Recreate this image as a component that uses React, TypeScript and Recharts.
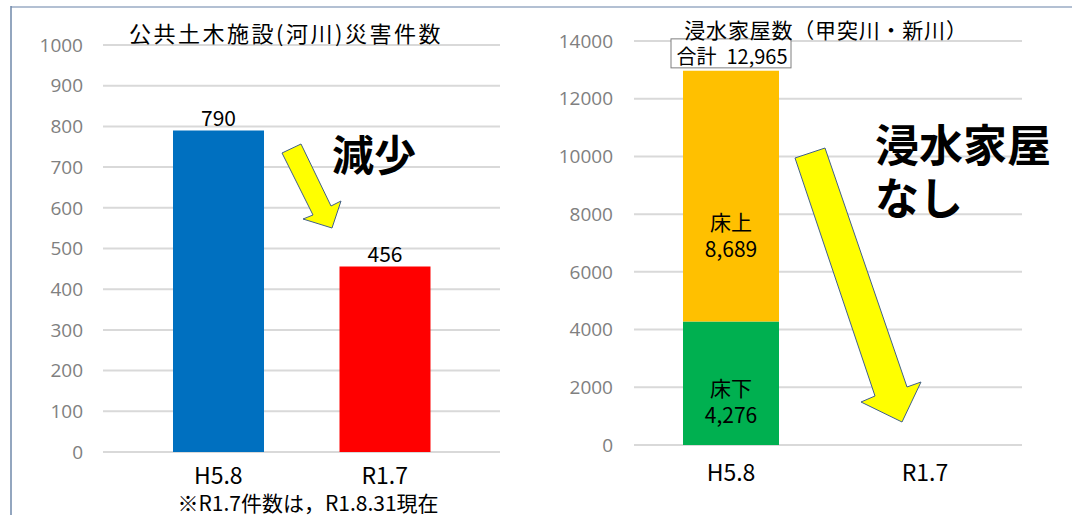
import { BarChart, Bar, XAxis, YAxis, CartesianGrid, Cell, LabelList } from 'recharts';

// categories and values
const categories = ['H5.8', 'R1.7'];
const disasterCounts = [790, 456];
const disasterColors = ['#0070C0', '#FF0000'];
const disasterTicks = [0, 100, 200, 300, 400, 500, 600, 700, 800, 900, 1000];

const floorBelow = [4276, 0]; // 床下
const floorAbove = [8689, 0]; // 床上
const floodTicks = [0, 2000, 4000, 6000, 8000, 10000, 12000, 14000];

const disasterData = categories.map((cat, i) => ({ cat, count: disasterCounts[i] }));
const floodData = categories.map((cat, i) => ({
    cat,
    below: floorBelow[i],
    above: floorAbove[i],
    total: floorBelow[i] + floorAbove[i],
}));

const JP = '"Noto Sans CJK JP", sans-serif';
const NUM = '"Open Sans", sans-serif';

const fmt = (v: number) => v.toLocaleString('en-US');

function segmentLabel(name: string, shift: number) {
    return (props: any) => {
        const vb = props.viewBox ?? props;
        const { x, y, width, height } = vb;
        const value = props.value;
        if (!value) return null;
        const cx = x + width / 2;
        const cy = y + height / 2 + shift;
        return (
            <text textAnchor="middle" dominantBaseline="central" fontFamily={JP} fontSize={21} fill="#000">
                <tspan x={cx} y={cy}>{name}</tspan>
                <tspan x={cx} y={cy + 27}>{fmt(value)}</tspan>
            </text>
        );
    };
}

function totalLabel(props: any) {
    const vb = props.viewBox ?? props;
    const { x, y, width } = vb;
    const value = props.value;
    if (!value) return null;
    const cx = x + width / 2;
    return (
        <g>
            <rect x={cx - 60} y={y - 32} width={120} height={29} fill="#fff" stroke="#7f7f7f" strokeWidth={1} />
            <text x={cx + 1} y={y - 15} textAnchor="middle" dominantBaseline="central" fontFamily={JP} fontSize={20} fill="#000">
                {'合計\u2002' + fmt(value)}
            </text>
        </g>
    );
}

function DisasterChart() {
    return (
        <BarChart width={540} height={515} data={disasterData} margin={{ top: 45, right: 40, bottom: 23, left: 0 }}>
            <CartesianGrid vertical={false} stroke="#d9d9d9" strokeWidth={2} />
            <XAxis
                dataKey="cat"
                height={40}
                axisLine={false}
                tickLine={false}
                tickSize={0}
                tickMargin={16}
                padding={{ left: 32, right: 32 }}
                tick={{ fill: '#000', fontSize: 23, fontFamily: JP }}
            />
            <YAxis
                domain={[0, 1000]}
                ticks={disasterTicks}
                width={103}
                axisLine={false}
                tickLine={false}
                tickSize={0}
                tickMargin={20}
                tick={{ fill: '#808080', fontSize: 19, fontFamily: NUM }}
            />
            <Bar dataKey="count" barSize={91} isAnimationActive={false}>
                {disasterData.map((d, i) => (
                    <Cell key={d.cat} fill={disasterColors[i]} />
                ))}
                <LabelList dataKey="count" position="top" offset={4} fill="#000" fontSize={21} fontFamily={JP} />
            </Bar>
        </BarChart>
    );
}

function FloodChart() {
    return (
        <BarChart width={542} height={515} data={floodData} margin={{ top: 41, right: 50, bottom: 30, left: 0 }}>
            <CartesianGrid vertical={false} stroke="#d9d9d9" strokeWidth={2} />
            <XAxis
                dataKey="cat"
                height={40}
                axisLine={false}
                tickLine={false}
                tickSize={0}
                tickMargin={20}
                tick={{ fill: '#000', fontSize: 23, fontFamily: JP }}
            />
            <YAxis
                domain={[0, 14000]}
                ticks={floodTicks}
                width={104}
                axisLine={false}
                tickLine={false}
                tickSize={0}
                tickMargin={21}
                tick={{ fill: '#808080', fontSize: 19, fontFamily: NUM }}
            />
            <Bar dataKey="below" stackId="a" fill="#00B050" barSize={96} isAnimationActive={false}>
                <LabelList dataKey="below" content={segmentLabel('床下', 3.5)} />
            </Bar>
            <Bar dataKey="above" stackId="a" fill="#FFC000" barSize={96} isAnimationActive={false}>
                <LabelList dataKey="above" content={segmentLabel('床上', 25)} />
                <LabelList dataKey="total" content={totalLabel} />
            </Bar>
        </BarChart>
    );
}

export default function App() {
    return (
        <div style={{ position: 'absolute', left: 0, top: 0, width: 1072, height: 515, background: '#fff', overflow: 'hidden' }}>
            <div style={{ position: 'absolute', left: 0, top: 0 }}>
                <DisasterChart />
            </div>
            <div style={{ position: 'absolute', left: 530, top: 0 }}>
                <FloodChart />
            </div>
            <svg width={1072} height={515} style={{ position: 'absolute', left: 0, top: 0, pointerEvents: 'none' }}>
                <line x1={11} y1={7} x2={1072} y2={7} stroke="#b3c0d3" strokeWidth={2} />
                <line x1={11} y1={6} x2={11} y2={515} stroke="#6f88aa" strokeWidth={1.5} />

                <text x={286} y={32} textAnchor="middle" dominantBaseline="central" fontFamily={JP} fontSize={22} letterSpacing={2.5} fill="#000">
                    公共土木施設(河川)災害件数
                </text>
                <text x={826} y={29} textAnchor="middle" dominantBaseline="central" fontFamily={JP} fontSize={21} letterSpacing={0.8} fill="#000">
                    浸水家屋数（甲突川・新川）
                </text>

                <polygon
                    points="282,153 301,144 331,206 341,201 332,228 303,219 313,215"
                    fill="#FFFF00"
                    stroke="#41608a"
                    strokeWidth={1}
                />
                <text x={374} y={152} textAnchor="middle" dominantBaseline="central" fontFamily={JP} fontSize={42} fontWeight={700} fill="#000">
                    減少
                </text>

                <polygon
                    points="795,158 825,148 907,387 921,382 902,422 861,402 875,396"
                    fill="#FFFF00"
                    stroke="#41608a"
                    strokeWidth={1}
                />
                <text x={875} y={143} dominantBaseline="central" fontFamily={JP} fontSize={44} fontWeight={700} fill="#000">
                    浸水家屋
                </text>
                <text x={875} y={196} dominantBaseline="central" fontFamily={JP} fontSize={44} fontWeight={700} fill="#000">
                    なし
                </text>

                <text x={308} y={502} textAnchor="middle" dominantBaseline="central" fontFamily={JP} fontSize={21} fill="#000">
                    ※R1.7件数は，R1.8.31現在
                </text>
            </svg>
        </div>
    );
}
